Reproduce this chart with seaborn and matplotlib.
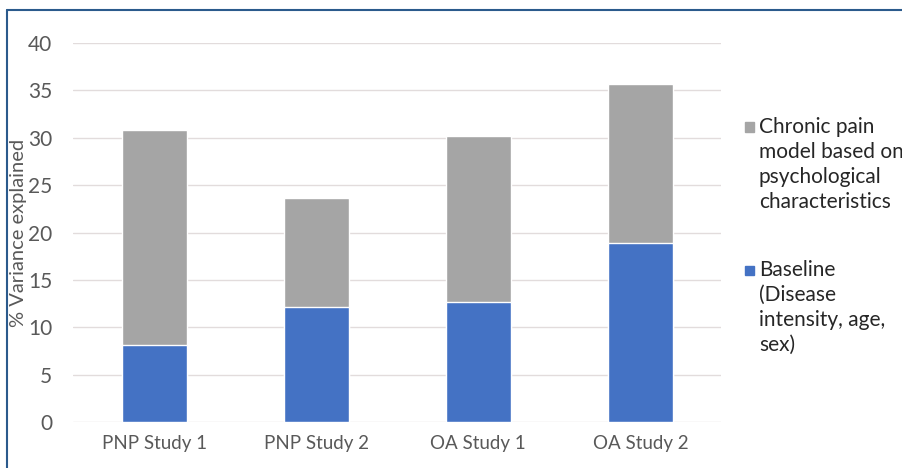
import matplotlib
matplotlib.use("Agg")
import matplotlib.pyplot as plt
import matplotlib.patches as mpatches
import seaborn as sns
import pandas as pd

studies = ["PNP Study 1", "PNP Study 2", "OA Study 1", "OA Study 2"]
baseline = [8.1, 12.2, 12.7, 18.9]
psychological = [22.7, 11.4, 17.5, 16.8]
legend_labels = [
    ["Chronic pain", "model based on", "psychological", "characteristics"],
    ["Baseline", "(Disease", "intensity, age,", "sex)"],
]

df = pd.DataFrame({"study": studies, "baseline": baseline, "psych": psychological})
df["total"] = df["baseline"] + df["psych"]

sns.set_theme(style="white")
plt.rcParams["font.family"] = ["Lato", "DejaVu Sans"]

BLUE = "#4472C4"
GREY = "#A5A5A5"
TEXT = "#595959"

W, H = 903, 468
fig = plt.figure(figsize=(W / 100, H / 100), dpi=100)
ax = fig.add_axes([0.081, 0.098, 0.718, 0.810])

sns.barplot(data=df, x="study", y="total", color=GREY, width=0.4,
            saturation=1, ax=ax, zorder=2)
sns.barplot(data=df, x="study", y="baseline", color=BLUE, width=0.4,
            saturation=1, ax=ax, zorder=3)

ax.set_ylim(0, 40)
ax.set_yticks(range(0, 41, 5))
ax.set_xlim(-0.5, 3.5)
ax.grid(axis="y", color="#E2DCDC", linewidth=1, zorder=0)
ax.set_axisbelow(True)
for s in ax.spines.values():
    s.set_visible(False)
ax.tick_params(axis="x", length=0, labelsize=13.5, colors=TEXT, pad=9)
ax.tick_params(axis="y", length=0, labelsize=15, colors=TEXT, pad=15)
ax.set_xlabel("")
ax.set_ylabel("% Variance explained", fontsize=14.5, color=TEXT)
ax.yaxis.set_label_coords(-0.071, 0.5)

# legend: square marker beside the first line of each multi-line entry
line_step = 25
entry_tops = [127, 270]
colors = [GREY, BLUE]
for top, lines, col in zip(entry_tops, legend_labels, colors):
    sq = 9
    fig.add_artist(mpatches.Rectangle((745 / W, 1 - (top + sq / 2) / H),
                                      sq / W, sq / H, color=col,
                                      transform=fig.transFigure))
    for i, line in enumerate(lines):
        fig.text(759 / W, 1 - (top + i * line_step) / H, line,
                 fontsize=15, color="#262626", va="center", ha="left")

# outer frame on the top and left
fig.add_artist(plt.Line2D([0.0078, 1.0], [0.979, 0.979], color="#2B5A8C",
                          linewidth=1.5, transform=fig.transFigure))
fig.add_artist(plt.Line2D([0.0078, 0.0078], [0.0, 0.979], color="#2B5A8C",
                          linewidth=1.5, transform=fig.transFigure))

fig.savefig("out.png", dpi=100)
